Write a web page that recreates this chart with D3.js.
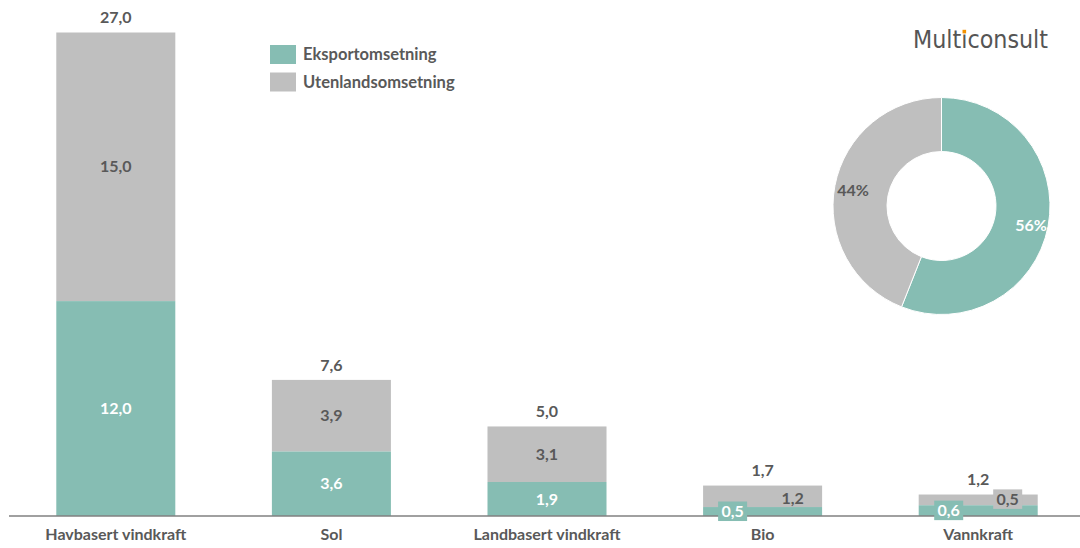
<!DOCTYPE html>
<html><head><meta charset="utf-8">
<script src="https://cdn.jsdelivr.net/npm/d3@7"></script>
<style>body{margin:0;background:#fff}svg{display:block}text{font-family:Lato,"Open Sans",sans-serif;font-weight:bold}</style>
</head><body><svg id="c" width="1080" height="548"></svg>
<script>
const categories = ["Havbasert vindkraft", "Sol", "Landbasert vindkraft", "Bio", "Vannkraft"];
const eksport = [12.0, 3.6, 1.9, 0.5, 0.6];
const utenland = [15.0, 3.9, 3.1, 1.2, 0.5];
const totals = [27.0, 7.6, 5.0, 1.7, 1.2];
const seriesNames = ["Eksportomsetning", "Utenlandsomsetning"];
const donutValues = [56, 44];
const donutLabels = ["56%", "44%"];

const TEAL = "#86BDB3", GRAY = "#BFBFBF", TXT = "#595959";
const FS = 16;
const svg = d3.select("#c");
const fmt = v => d3.format(".1f")(v).replace(".", ",");

const x = d3.scaleBand().domain(categories).range([8, 1086]).paddingInner(0.448).paddingOuter(0.224);
const y = d3.scaleLinear().domain([0, 27]).range([516, 32.5]);

const rows = categories.map((c, i) => ({c, e: eksport[i], u: utenland[i], t: totals[i], i}));
const smallShift = {"Bio": 30, "Vannkraft": 29.5};
const boxed = {"Bio": [true, false], "Vannkraft": [true, true]};

const g = svg.append("g");
g.selectAll("rect.u").data(rows).join("rect")
  .attr("x", d => x(d.c)).attr("width", x.bandwidth())
  .attr("y", d => y(d.t)).attr("height", d => y(d.e) - y(d.t)).attr("fill", GRAY);
g.selectAll("rect.e").data(rows).join("rect")
  .attr("x", d => x(d.c)).attr("width", x.bandwidth())
  .attr("y", d => y(d.e)).attr("height", d => y(0) - y(d.e)).attr("fill", TEAL);

// axis
const axis = d3.axisBottom(x).tickSize(0).tickPadding(13);
const ax = svg.append("g").attr("transform", "translate(0,516)").call(axis);
ax.select(".domain").attr("stroke", "#808080").attr("stroke-width", 1.5).attr("d", "M9,0H1080");
ax.selectAll("text").attr("font-size", FS).attr("fill", TXT).style("font-family", "Lato,sans-serif").style("font-weight", "bold");

// labels
const lg0 = svg.append("g");
rows.forEach(d => {
  const cx = x(d.c) + x.bandwidth() / 2;
  const sh = smallShift[d.c] || 0;
  const bx = boxed[d.c] || [false, false];
  const ey = (y(0) + y(d.e)) / 2, uy = (y(d.e) + y(d.t)) / 2;
  if (bx[0]) lg0.append("rect").attr("x", cx - sh - 14.5).attr("y", ey - 10).attr("width", 29).attr("height", 19.5).attr("fill", TEAL);
  if (bx[1]) lg0.append("rect").attr("x", cx + sh - 14.5).attr("y", uy - 10.5).attr("width", 29).attr("height", 19.5).attr("fill", GRAY);
  lg0.append("text").attr("x", cx - sh).attr("y", ey - (sh ? 0.5 : 0)).attr("dy", "0.35em").attr("text-anchor", "middle")
    .attr("font-size", FS).attr("fill", "#fff").text(fmt(d.e));
  lg0.append("text").attr("x", cx + sh).attr("y", uy + (d.c === "Bio" ? 2 : 0)).attr("dy", "0.35em").attr("text-anchor", "middle")
    .attr("font-size", FS).attr("fill", TXT).text(fmt(d.u));
  lg0.append("text").attr("x", cx).attr("y", y(d.t) - 15).attr("dy", "0.35em").attr("text-anchor", "middle")
    .attr("font-size", FS).attr("fill", TXT).text(fmt(d.t));
});

// legend
const lg = svg.append("g");
[TEAL, GRAY].forEach((col, i) => {
  lg.append("rect").attr("x", 270).attr("y", 45 + i * 27.5).attr("width", 26).attr("height", 19).attr("fill", col);
  lg.append("text").attr("x", 303).attr("y", 54.5 + i * 27.5).attr("dy", "0.35em").attr("font-size", 16.5)
    .attr("fill", TXT).text(seriesNames[i]);
});

// donut
const pie = d3.pie().sort(null)(donutValues);
const arc = d3.arc().innerRadius(54.5).outerRadius(108.5);
const dg = svg.append("g").attr("transform", "translate(941.5,206)");
dg.selectAll("path").data(pie).join("path").attr("d", arc)
  .attr("fill", (d, i) => i === 0 ? TEAL : GRAY).attr("stroke", "#fff").attr("stroke-width", 1);
const lblPos = [[1031, 225], [853, 190]];
pie.forEach((p, i) => {
  svg.append("text").attr("x", lblPos[i][0]).attr("y", lblPos[i][1]).attr("dy", "0.35em").attr("text-anchor", "middle")
    .attr("font-size", FS).attr("fill", i === 0 ? "#fff" : TXT).text(donutLabels[i]);
});

// logo
const logo = svg.append("text").attr("x", 1048).attr("y", 48).attr("text-anchor", "end")
  .attr("font-size", 24).attr("fill", "#555").style("font-weight", "normal").style("font-family", "DejaVu Sans Condensed,sans-serif")
  .attr("textLength", 135).attr("lengthAdjust", "spacingAndGlyphs").text("Multiconsult");
try {
  const b = logo.node().getExtentOfChar(4);
  svg.append("rect").attr("x", b.x + b.width / 2 - 2.5).attr("y", 48 - 19).attr("width", 5).attr("height", 5.5).attr("fill", "#fff");
  svg.append("rect").attr("x", b.x + b.width / 2 - 1.8).attr("y", 48 - 18.2).attr("width", 3.6).attr("height", 3.6).attr("fill", "#F39200");
} catch (e) {}
</script></body></html>
